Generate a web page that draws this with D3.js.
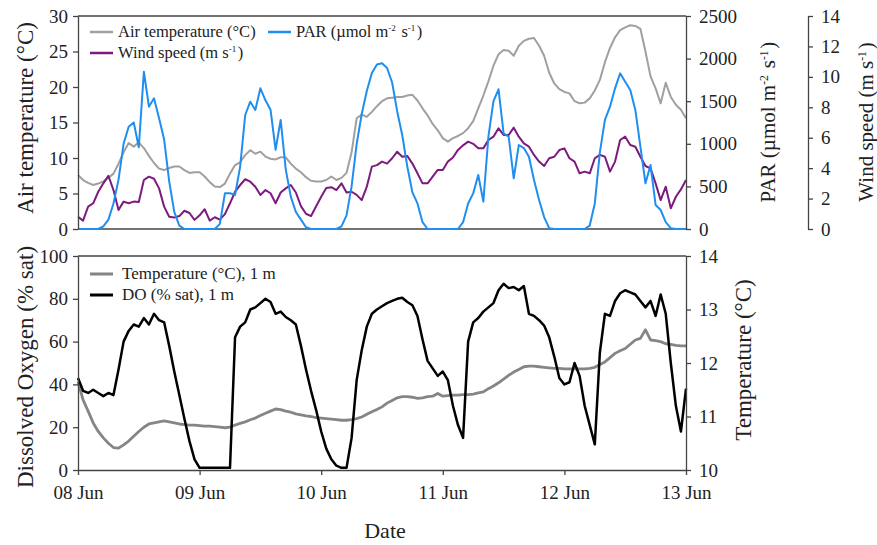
<!DOCTYPE html>
<html>
<head>
<meta charset="utf-8">
<script src="https://cdn.jsdelivr.net/npm/d3@7"></script>
<style>
  body { margin: 0; background: #fff; }
</style>
</head>
<body>
<svg id="chart" width="877" height="545"></svg>
<script>
// hourly readings, 08 Jun 00:00 -> 13 Jun 00:00
let airTemp = [7.6,6.9,6.5,6.2,6.4,6.7,7.2,7.8,9.2,10.8,
  12.1,11.6,12.2,11.4,10.3,9.3,8.5,8.3,8.6,8.8,
  8.8,8.3,7.9,8.0,8.0,7.4,6.6,6.0,5.9,6.4,
  7.8,9.0,9.4,10.4,11.1,10.6,10.9,10.2,9.9,9.8,
  10.1,10.1,9.2,8.5,8.0,7.3,6.8,6.7,6.7,6.9,
  7.4,6.9,7.2,7.9,10.8,15.6,16.1,15.8,16.5,17.3,
  18.0,18.4,18.5,18.6,18.6,18.8,18.9,18.1,17.0,16.0,
  14.8,13.9,12.8,12.3,12.8,13.1,13.5,14.2,15.2,17.0,
  18.8,20.8,23.0,24.6,25.2,25.1,24.4,25.8,26.5,26.8,
  26.9,25.8,24.4,22.0,20.5,19.7,19.3,19.1,18.0,17.7,
  17.8,18.4,19.5,21.0,23.5,25.5,27.0,28.0,28.4,28.7,
  28.6,28.2,25.0,21.5,19.8,17.7,20.6,18.6,17.5,16.8,15.6]

let par = [0,0,0,0,0,30,110,300,580,1000,
  1200,1250,960,1846,1436,1534,1300,1050,560,200,
  40,0,0,0,0,0,0,0,60,420,
  420,400,730,1338,1494,1397,1651,1510,1400,930,
  1280,700,380,200,110,20,0,0,0,0,
  0,0,30,160,500,1000,1350,1620,1830,1930,
  1945,1890,1720,1380,1100,730,430,300,80,0,
  0,0,0,0,0,0,80,300,418,634,
  321,1083,1500,1640,1123,1083,595,986,950,849,
  575,340,140,10,0,0,0,0,0,0,
  0,40,300,900,1280,1436,1651,1827,1729,1631,
  1397,966,536,751,282,223,80,10,0,0,0]

let wind = [0.8,0.55,1.47,1.69,2.45,3.0,3.5,2.56,1.25,1.8,
  1.69,1.8,1.77,3.22,3.44,3.3,2.67,1.47,0.81,0.75,
  0.85,1.2,1.05,0.6,0.9,1.3,0.55,0.77,0.62,0.98,
  1.69,2.45,2.89,3.27,3.11,2.78,2.24,2.56,2.35,1.69,
  2.4,2.67,2.89,2.4,1.5,1.0,0.85,1.5,2.12,2.7,
  2.75,2.56,3.0,2.4,2.45,2.24,1.9,2.78,4.1,4.2,
  4.43,4.3,4.65,5.08,4.75,4.8,4.3,3.66,3.0,3.0,
  3.44,3.88,3.88,4.43,4.7,5.2,5.5,5.74,5.6,5.3,
  5.3,5.85,6.07,6.62,6.18,6.18,6.66,6.07,5.63,5.41,
  4.87,4.43,4.14,4.65,4.75,5.19,5.3,4.65,4.43,3.66,
  3.77,3.66,4.65,4.87,4.75,3.77,4.43,5.85,6.07,5.52,
  5.41,4.75,4.14,3.99,3.0,1.9,2.78,1.36,2.12,2.6,3.22]

let dissolvedOxygen = [43,37,36,37.5,36,34.5,36,35,47,60,
  65,68,67,71,68,73,70,69,58,46,
  35,24,13.5,5,1,1,1,1,1,1,
  1,62,67,69,75,76,78,80,78.5,73,
  74,71.5,70,68,58,47,37,28,18,10,
  5,2,1,1,15,42,56,67,73,75,
  76.5,78,79,80,80.5,78.5,77,72,61,51,
  47.5,44,46,42,30,21,15,60,69,71,
  74,76,78,84,87,85,85.5,84,86,73,
  72,70,67.5,62,53,43,40,41,50,44,
  30,21,12,55,73,72,79,82.6,84,83,
  82,79,76,79,72,82,73,50,30,18,38]

let waterTemp = [11.65,11.31,11.1,10.88,10.72,10.6,10.5,10.42,10.41,10.47,
  10.54,10.63,10.72,10.8,10.86,10.88,10.9,10.92,10.9,10.88,
  10.86,10.85,10.84,10.84,10.83,10.82,10.82,10.81,10.8,10.79,
  10.8,10.84,10.87,10.9,10.94,10.97,11.02,11.06,11.1,11.14,
  11.13,11.1,11.08,11.05,11.03,11.01,11.0,10.98,10.97,10.96,
  10.95,10.94,10.93,10.93,10.94,10.96,10.99,11.04,11.09,11.13,
  11.18,11.25,11.3,11.35,11.37,11.37,11.36,11.34,11.35,11.37,
  11.38,11.43,11.38,11.39,11.4,11.4,11.41,11.41,11.42,11.44,
  11.46,11.52,11.57,11.63,11.7,11.77,11.83,11.88,11.93,11.94,
  11.94,11.93,11.92,11.91,11.9,11.9,11.89,11.89,11.89,11.89,
  11.89,11.9,11.92,11.97,12.02,12.1,12.18,12.23,12.27,12.35,
  12.43,12.46,12.62,12.43,12.42,12.4,12.36,12.35,12.33,12.32,12.32]

let airTicks = [0,5,10,15,20,25,30]
let parTicks = [0,500,1000,1500,2000,2500]
let windTicks = [0,2,4,6,8,10,12,14]
let doTicks = [0,20,40,60,80,100]
let waterTicks = [10,11,12,13,14]

let start = new Date(2013, 5, 8)
let end = new Date(2013, 5, 13)
let time = function (i) { return new Date(start.getTime() + i * 3600000) }

let svg = d3.select('#chart')
let left = 78
let right = 686
let axisColor = '#444'
let serif = "'Liberation Serif', 'Times New Roman', serif"
let plain = d3.format('d')

let x = d3.scaleTime().domain([start, end]).range([left, right])

// top panel scales
let yAir = d3.scaleLinear().domain([0, 30]).range([229, 16])
let yPar = d3.scaleLinear().domain([0, 2500]).range([229, 16])
let yWind = d3.scaleLinear().domain([0, 14]).range([229, 16])
// bottom panel scales
let yDo = d3.scaleLinear().domain([0, 100]).range([470, 256])
let yWater = d3.scaleLinear().domain([10, 14]).range([470, 256])

function styleAxis(g) {
  g.attr('font-family', null)
  g.selectAll('path').attr('stroke', axisColor).attr('stroke-width', 1.3)
  g.selectAll('line').attr('stroke', axisColor).attr('stroke-width', 1.3)
  g.selectAll('text').attr('font-size', 19).attr('fill', '#222')
}

function frameLine(x1, y1, x2, y2) {
  svg.append('line').attr('x1', x1).attr('y1', y1).attr('x2', x2).attr('y2', y2)
    .attr('stroke', axisColor).attr('stroke-width', 1.3)
}

function drawSeries(values, scale, color, width) {
  let line = d3.line()
    .x(function (d, i) { return x(time(i)) })
    .y(function (d) { return scale(d) })
  svg.append('path').datum(values)
    .attr('d', line)
    .attr('fill', 'none')
    .attr('stroke', color)
    .attr('stroke-width', width)
    .attr('stroke-linejoin', 'round')
}

// parts: [text, superscript]
function axisTitle(cx, cy, parts, size) {
  let t = svg.append('text')
    .attr('transform', `translate(${cx},${cy}) rotate(-90)`)
    .attr('text-anchor', 'middle')
    .attr('dy', '0.35em')
    .attr('font-size', size)
  addParts(t, parts, size)
}

function addParts(t, parts, size) {
  parts.forEach(function (p) {
    if (p[0]) t.append('tspan').text(p[0])
    if (p[1]) {
      t.append('tspan').attr('dy', -size * 0.35).attr('font-size', size * 0.55).text(p[1])
      t.append('tspan').attr('dy', size * 0.35).text('\u200A')
    }
  })
}

function legendItem(x0, y0, color, width, parts, size, gap) {
  svg.append('line').attr('x1', x0).attr('x2', x0 + 23).attr('y1', y0).attr('y2', y0)
    .attr('stroke', color).attr('stroke-width', width)
  let t = svg.append('text').attr('x', x0 + gap).attr('y', y0 + 5).attr('font-size', size)
  addParts(t, parts, size)
}

// ---------- top panel ----------
frameLine(left, 16, right, 16)
frameLine(left, 229, right, 229)

drawSeries(airTemp, yAir, '#a0a0a0', 2)
drawSeries(wind, yWind, '#7d1a7d', 2)
drawSeries(par, yPar, '#1f8ef1', 2)

svg.append('g').attr('transform', `translate(${left},0)`)
  .call(d3.axisLeft(yAir).tickValues(airTicks).tickSize(5).tickSizeOuter(0).tickPadding(5))
  .call(styleAxis)
svg.append('g').attr('transform', `translate(${right},0)`)
  .call(d3.axisRight(yPar).tickValues(parTicks).tickFormat(plain).tickSize(5).tickSizeOuter(0).tickPadding(8))
  .call(styleAxis)
svg.append('g').attr('transform', 'translate(808,0)')
  .call(d3.axisRight(yWind).tickValues(windTicks).tickSize(5).tickSizeOuter(0).tickPadding(8))
  .call(styleAxis)

axisTitle(25, 118, [['Air temperature (°C)']], 23)
axisTitle(768, 122, [['PAR (µmol m', '-2'], [' s', '-1'], [')']], 21)
axisTitle(866, 122, [['Wind speed (m s', '-1'], [')']], 21)

legendItem(90, 32, '#a0a0a0', 2.5, [['Air temperature (°C)']], 16.5, 28)
legendItem(268, 32, '#1f8ef1', 2.5, [['PAR (µmol m', '-2'], [' s', '-1'], [')']], 16.5, 28)
legendItem(90, 53, '#7d1a7d', 2.5, [['Wind speed (m s', '-1'], [')']], 16.5, 28)

// ---------- bottom panel ----------
frameLine(left, 256, right, 256)

drawSeries(waterTemp, yWater, '#858585', 2.8)
drawSeries(dissolvedOxygen, yDo, '#000', 2.5)

svg.append('g').attr('transform', 'translate(0,470)')
  .call(d3.axisBottom(x).ticks(d3.timeDay.every(1)).tickFormat(d3.timeFormat('%d %b'))
    .tickSize(5).tickSizeOuter(0).tickPadding(11))
  .call(styleAxis)
svg.append('g').attr('transform', `translate(${left},0)`)
  .call(d3.axisLeft(yDo).tickValues(doTicks).tickSize(5).tickSizeOuter(0).tickPadding(5))
  .call(styleAxis)
svg.append('g').attr('transform', `translate(${right},0)`)
  .call(d3.axisRight(yWater).tickValues(waterTicks).tickFormat(plain).tickSize(5).tickSizeOuter(0).tickPadding(8))
  .call(styleAxis)

axisTitle(25, 367, [['Dissolved Oxygen (% sat)']], 23)
axisTitle(743, 360, [['Temperature (°C)']], 23)

svg.append('text').attr('x', 385).attr('y', 538).attr('text-anchor', 'middle')
  .attr('font-size', 22).text('Date')

legendItem(90, 274, '#858585', 3, [['Temperature (°C), 1 m']], 17, 32)
legendItem(90, 295, '#000', 3, [['DO (% sat), 1 m']], 17, 32)

svg.selectAll('text').style('font-family', serif).style('fill', '#222')
</script>
</body>
</html>
